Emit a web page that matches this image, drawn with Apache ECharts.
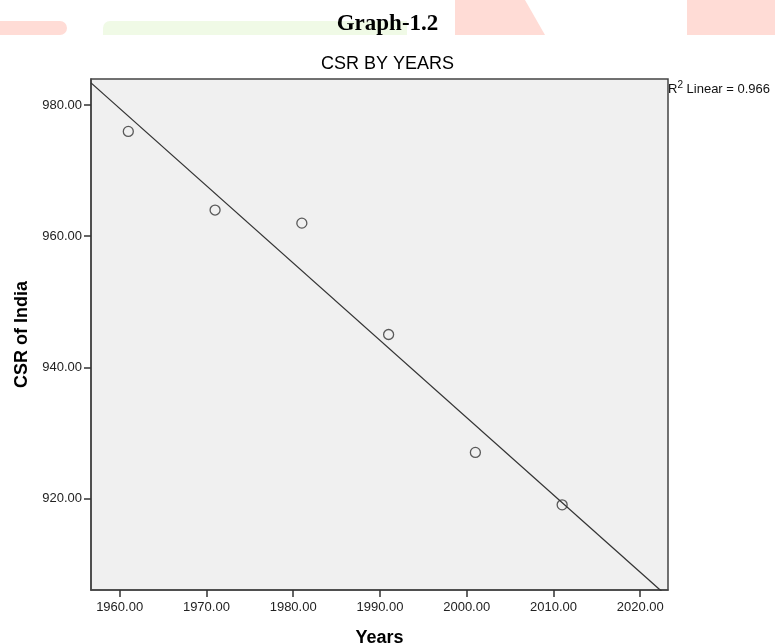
<!DOCTYPE html>
<html>
<head>
<meta charset="utf-8">
<script src="https://cdn.jsdelivr.net/npm/echarts@6/dist/echarts.min.js"></script>
<style>
    html, body { margin: 0; padding: 0; background: #fff; }
    #main { width: 775px; height: 643px; }
</style>
</head>
<body>
<div id="main"></div>
<script>
// data
var years = [1961, 1971, 1981, 1991, 2001, 2011];
var csr = [976, 964, 962, 945, 927, 919];
var xTicks = [1960, 1970, 1980, 1990, 2000, 2010, 2020];
var yTicks = [920, 940, 960, 980];
var xRange = [1956.7, 2023.2];
var yRange = [906, 984];

// least squares fit, like the SPSS "R2 Linear" line
function fitLine (xs, ys) {
    var n = xs.length, mx = 0, my = 0, sxy = 0, sxx = 0, syy = 0;
    for (var i = 0; i < n; i++) { mx += xs[i] / n; my += ys[i] / n; }
    for (var j = 0; j < n; j++) {
        sxy += (xs[j] - mx) * (ys[j] - my);
        sxx += (xs[j] - mx) * (xs[j] - mx);
        syy += (ys[j] - my) * (ys[j] - my);
    }
    var b = sxy / sxx;
    return { a: my - b * mx, b: b, r2: (sxy * sxy) / (sxx * syy) };
}
var fit = fitLine(years, csr);
var lineData = xRange.map(function (x) { return [x, fit.a + fit.b * x]; });
var points = years.map(function (y, i) { return [y, csr[i]]; });

var font = 'Liberation Sans, Arial, sans-serif';
var pink = '#ffdcd6';
var green = '#f0fae6';

var myChart = echarts.init(document.getElementById('main'));
myChart.setOption({
    animation: false,
    backgroundColor: '#fff',
    graphic: [
        { type: 'rect', shape: { x: -10, y: 21, width: 77, height: 14, r: [0, 7, 7, 0] }, style: { fill: pink }, z: -10 },
        { type: 'rect', shape: { x: 103, y: 21, width: 304, height: 14, r: [7, 0, 0, 0] }, style: { fill: green }, z: -10 },
        { type: 'polygon', shape: { points: [[455, 0], [525, 0], [545, 35], [455, 35]] }, style: { fill: pink }, z: -10 },
        { type: 'rect', shape: { x: 687, y: 0, width: 90, height: 35 }, style: { fill: pink }, z: -10 },
        {
            type: 'text', left: 'center', top: 13,
            style: { text: 'Graph-1.2', font: 'bold 23px "Liberation Serif", "Times New Roman", serif', fill: '#000' }
        },
        {
            type: 'text', left: 668, top: 80,
            style: {
                text: '{r|R}{s|2}{r| Linear = ' + fit.r2.toFixed(3) + '}',
                rich: {
                    r: { fontSize: 13, fontFamily: font, fill: '#111', verticalAlign: 'bottom', lineHeight: 16 },
                    s: { fontSize: 10, fontFamily: font, fill: '#111', verticalAlign: 'top', lineHeight: 16, padding: [0, 0, 6, 0] }
                }
            }
        }
    ],
    title: {
        text: 'CSR BY YEARS',
        left: 'center',
        top: 50,
        textStyle: { fontFamily: font, fontSize: 18, fontWeight: 'normal', color: '#000' }
    },
    grid: {
        left: 91, top: 79, width: 577, height: 511,
        outerBoundsMode: 'none',
        containLabel: false,
        show: true,
        backgroundColor: '#f0f0f0',
        borderColor: '#444',
        borderWidth: 1.5
    },
    xAxis: {
        type: 'value',
        min: xRange[0],
        max: xRange[1],
        name: 'Years',
        nameLocation: 'middle',
        nameGap: 39,
        nameTextStyle: { fontFamily: font, fontSize: 18, fontWeight: 'bold', color: '#000' },
        axisLine: { show: true, lineStyle: { color: '#444', width: 1.5 } },
        axisTick: { show: true, length: 7, customValues: xTicks, lineStyle: { color: '#333', width: 1.5 } },
        axisLabel: {
            customValues: xTicks,
            margin: 11,
            fontFamily: font, fontSize: 13, color: '#222',
            formatter: function (v) { return v.toFixed(2); }
        },
        splitLine: { show: false }
    },
    yAxis: {
        type: 'value',
        min: yRange[0],
        max: yRange[1],
        name: 'CSR of India',
        nameLocation: 'middle',
        nameGap: 60,
        nameTextStyle: { fontFamily: font, fontSize: 18, fontWeight: 'bold', color: '#000' },
        axisLine: { show: true, lineStyle: { color: '#444', width: 1.5 } },
        axisTick: { show: true, length: 7, customValues: yTicks, lineStyle: { color: '#333', width: 1.5 } },
        axisLabel: {
            customValues: yTicks,
            margin: 9,
            fontFamily: font, fontSize: 13, color: '#222',
            formatter: function (v) { return v.toFixed(2); }
        },
        splitLine: { show: false }
    },
    series: [
        {
            name: 'Linear',
            type: 'line',
            data: lineData,
            showSymbol: false,
            clip: true,
            lineStyle: { color: '#333', width: 1.3 },
            z: 2
        },
        {
            name: 'CSR',
            type: 'scatter',
            data: points,
            symbol: 'circle',
            symbolSize: 10,
            itemStyle: { color: 'rgba(0,0,0,0)', borderColor: '#333', borderWidth: 1.3 },
            z: 3
        }
    ]
});
</script>
</body>
</html>
